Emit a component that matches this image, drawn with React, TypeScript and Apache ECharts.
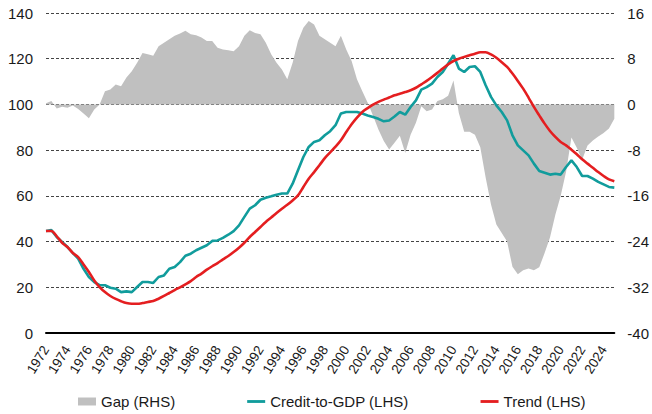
import React, { useEffect, useRef } from "react";
import * as echarts from "echarts";

// Half-yearly observations, 1972 H1 to 2025 H1
const startYear = 1972;
const periods: number[] = Array.from({ length: 107 }, (_, i) => startYear + i / 2);

const creditToGdp: number[] = [
  44.6, 45, 42, 39.8, 37.6, 35, 32.5, 28.1, 24.5, 22.3,
  20.9, 20.9, 19.8, 19.4, 17.9, 18.2, 17.9, 20.1, 22.3, 22.3,
  21.9, 24.5, 25.2, 28.1, 28.9, 31, 33.8, 34.7, 36.2, 37.3,
  38.4, 40.3, 40.5, 41.6, 43, 44.6, 47.1, 50.8, 54.4, 55.9,
  58.3, 59.2, 59.8, 60.5, 61, 61, 65.3, 71.2, 77, 81.4,
  83.6, 84.3, 86.5, 88.3, 90.9, 96, 96.7, 96.7, 96.7, 96,
  95.2, 94.5, 93.7, 92.6, 93, 94.7, 96.7, 95.5, 98.9, 101.8,
  106.5, 107.6, 109.1, 112, 114.2, 117.8, 121.5, 115.7, 114.2, 116.4,
  116.7, 114.2, 108.4, 103.3, 99.6, 96.7, 93, 86.5, 82.1, 79.9,
  77.7, 74.1, 70.9, 70.1, 69.3, 69.7, 69.3, 72.6, 75.5, 72.6,
  68.7, 68.7, 67.5, 66.1, 65, 63.9, 63.6,
];

const trend: number[] = [
  44.6, 44.6, 42.3, 39.5, 37.6, 35, 33.2, 30, 26.7, 23,
  20.1, 17.9, 16.2, 14.9, 13.9, 13.1, 12.8, 12.8, 13.1, 13.6,
  14, 15, 16.2, 17.5, 18.8, 20, 21.3, 22.7, 24.5, 26,
  27.7, 29.2, 30.6, 32.2, 33.7, 35.4, 37.3, 39.5, 42, 44.2,
  46.4, 48.6, 50.5, 52.5, 54.4, 56.1, 58, 60.2, 63.9, 67.5,
  70.4, 73.4, 76.5, 79, 81.5, 84.3, 87.9, 91.3, 94.2, 96.7,
  98.4, 99.9, 101.1, 102.1, 103, 104, 104.7, 105.4, 106.2, 107.3,
  108.8, 110.3, 112, 113.8, 115.7, 117.5, 119, 120, 120.8, 121.5,
  122.2, 122.8, 122.8, 121.9, 120.4, 118.5, 116.4, 113.5, 110.3, 106.9,
  103, 98.9, 95.2, 91.6, 88.4, 85.8, 83.6, 82.1, 80.2, 78.2,
  76, 74.1, 72.3, 70.4, 68.7, 67.2, 66.4,
];

const gap: number[] = [
  0.2, 0.6, -0.7, -0.4, -0.6, -0.2, -0.8, -1.6, -2.4, -0.9,
  0, 2.3, 2.6, 3.5, 3.2, 4.7, 5.8, 7.3, 9.0, 8.8,
  8.5, 10.2, 10.8, 11.4, 12.0, 12.4, 12.9, 12.3, 12.1, 11.7,
  11.1, 11.1, 9.9, 9.6, 9.5, 9.3, 10.2, 12, 13, 12.5,
  12.3, 10.8, 8.8, 7.3, 6.1, 4.4, 7.3, 11.1, 13.4, 14.6,
  14, 12, 11.4, 10.8, 10.2, 12, 9.6, 7.6, 4.4, 2.3,
  0.3, -2, -4.4, -6.4, -7.9, -6.7, -5.5, -8.5, -5.3, -3.2,
  -0.3, -1.2, -0.9, 0.6, 0.9, 1.5, 4.2, -1.5, -4.8, -4.8,
  -5.3, -7.5, -12.8, -17.5, -21, -22.5, -24, -28.4, -29.7, -29,
  -28.7, -29, -28.5, -26, -23.3, -19.3, -16, -11.8, -5.8, -7.6,
  -9.7, -7.2, -6.3, -5.6, -5, -4.2, -2.5,
];

const leftTicks = { min: 0, max: 140, interval: 20 };
const rightTicks = { min: -40, max: 16, interval: 8 };
const yearTicks = { min: 1972, max: 2025, interval: 2 };

const seriesNames = ["Gap (RHS)", "Credit-to-GDP (LHS)", "Trend (LHS)"];

const FONT = "Arial, 'Liberation Sans', sans-serif";
const TEXT = "#1a1a1a";
const LINE_ICON = "path://M0,0h19v3h-19z";

export default function App() {
  const ref = useRef<HTMLDivElement>(null);

  useEffect(() => {
    document.body.style.margin = "0";
    if (!ref.current) return;
    const chart = echarts.init(ref.current, undefined, { renderer: "svg" });
    const pair = (vals: number[]) => vals.map((v, i) => [periods[i], v]);

    chart.setOption({
      animation: false,
      textStyle: { fontFamily: FONT },
      grid: { left: 46, right: 34, top: 13, bottom: 81, containLabel: false },
      legend: {
        left: 78,
        top: 394,
        padding: 0,
        itemGap: 72,
        itemWidth: 18,
        itemHeight: 8,
        textStyle: { fontSize: 15, color: TEXT, fontFamily: FONT },
        data: [
          { name: seriesNames[0], icon: "rect" },
          { name: seriesNames[1], icon: LINE_ICON },
          { name: seriesNames[2], icon: LINE_ICON },
        ],
      },
      xAxis: {
        type: "value",
        min: yearTicks.min,
        max: yearTicks.max,
        interval: yearTicks.interval,
        axisLine: { show: true, onZero: false, lineStyle: { color: "#000", width: 2 } },
        axisTick: { show: false },
        splitLine: { show: false },
        axisLabel: {
          rotate: 58,
          margin: 14,
          fontSize: 13.5,
          color: TEXT,
          fontFamily: FONT,
          showMaxLabel: false,
          formatter: (v: number) => (v % 2 === 0 ? String(v) : ""),
        },
      },
      yAxis: [
        {
          type: "value",
          min: leftTicks.min,
          max: leftTicks.max,
          interval: leftTicks.interval,
          axisLine: { show: false },
          axisTick: { show: false },
          axisLabel: { fontSize: 15, color: TEXT, margin: 13, fontFamily: FONT },
          splitLine: { show: true, lineStyle: { color: "#444", width: 1, type: [3, 2] } },
        },
        {
          type: "value",
          min: rightTicks.min,
          max: rightTicks.max,
          interval: rightTicks.interval,
          position: "right",
          axisLine: { show: false },
          axisTick: { show: false },
          axisLabel: { fontSize: 15, color: TEXT, margin: 13, fontFamily: FONT },
          splitLine: { show: false },
        },
      ],
      series: [
        {
          name: seriesNames[0],
          type: "line",
          yAxisIndex: 1,
          data: pair(gap),
          symbol: "none",
          color: "#C0C0C0",
          lineStyle: { width: 0, color: "#C0C0C0" },
          areaStyle: { color: "#C0C0C0", opacity: 1, origin: 0 },
          z: 1,
        },
        {
          name: seriesNames[1],
          type: "line",
          yAxisIndex: 0,
          data: pair(creditToGdp),
          symbol: "none",
          color: "#119C9C",
          lineStyle: { width: 2.6, color: "#119C9C" },
          z: 3,
        },
        {
          name: seriesNames[2],
          type: "line",
          yAxisIndex: 0,
          data: pair(trend),
          symbol: "none",
          smooth: 0.3,
          color: "#E41E20",
          lineStyle: { width: 2.6, color: "#E41E20" },
          z: 4,
        },
      ],
    });

    return () => chart.dispose();
  }, []);

  return <div ref={ref} style={{ width: 652, height: 414 }} />;
}
